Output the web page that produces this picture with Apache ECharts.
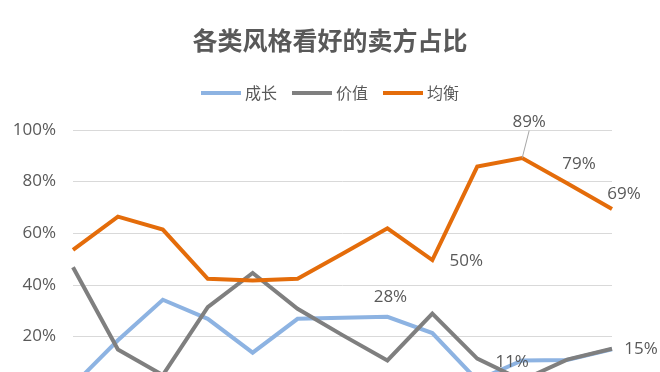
<!DOCTYPE html>
<html><head><meta charset="utf-8">
<script src="https://cdn.jsdelivr.net/npm/echarts@6/dist/echarts.min.js"></script>
<style>html,body{margin:0;padding:0;background:#fff}#c{width:660px;height:372px}</style>
</head><body><div id="c"></div>
<script>
var categories = ['1','2','3','4','5','6','7','8','9','10','11','12','13'];
var seriesNames = ['成长','价值','均衡'];
var growth   = [1, 18.5, 34.2, 26.8, 13.7, 26.8, 27.2, 27.6, 21.3, 3, 10.7, 10.9, 15];
var value    = [46.8, 14.9, 5, 31.3, 44.6, 30.7, 20.5, 10.7, 28.8, 11.4, 3, 11, 15.2];
var balanced = [53.5, 66.4, 61.4, 42.3, 41.7, 42.3, 52, 61.9, 49.6, 85.8, 89.1, 79.4, 69.4];
var yTicks = [0, 20, 40, 60, 80, 100];
var titleText = '各类风格看好的卖方占比';

// which points carry a data label (series index -> point index -> label style)
var labelCfg = {
  0: {7: {offset:[3,-20]}, 10: {offset:[-10,2]}},
  1: {12: {offset:[29,0]}},
  2: {8: {offset:[34,1]}, 10: {offset:[7,-36], leader:true}, 11: {offset:[12,-19]}, 12: {offset:[12,-15]}}
};
var colors = ['#8DB3E2', '#7F7F7F', '#E46C0A'];
var font = "'Noto Sans CJK SC', 'Noto Sans', sans-serif";
var numFont = "'Open Sans', 'Noto Sans', sans-serif";

function build(arr, si) {
  return arr.map(function (v, i) {
    var c = labelCfg[si][i];
    if (!c) return v;
    return {
      value: v,
      label: {
        show: true, position: 'inside', offset: c.offset,
        formatter: function (p) { return Math.round(p.value) + '%'; },
        color: '#595959', fontSize: 17, fontFamily: numFont
      },
      labelLine: c.leader ? {show: true, lineStyle: {color: '#A6A6A6', width: 1}} : {show: false}
    };
  });
}
var datas = [growth, value, balanced];
var series = datas.map(function (d, si) {
  return {
    name: seriesNames[si], type: 'line', data: build(d, si),
    symbol: 'circle', symbolSize: 0, showSymbol: true,
    lineStyle: {width: 4, color: colors[si], join: 'miter'},
    itemStyle: {color: colors[si]},
    emphasis: {disabled: true},
    z: 2 + si
  };
});

var chart = echarts.init(document.getElementById('c'), null, {renderer: 'canvas'});
chart.setOption({
  animation: false,
  backgroundColor: '#fff',
  color: colors,
  title: {
    text: titleText, left: 'center', top: 23,
    textStyle: {fontSize: 25, fontWeight: 'bold', color: '#595959', fontFamily: font}
  },
  legend: {
    data: seriesNames, top: 80, left: 'center',
    icon: 'rect', itemWidth: 40, itemHeight: 4, itemGap: 15,
    textStyle: {fontSize: 16, color: '#595959', fontFamily: font, padding: [0,0,0,-1]}
  },
  grid: {left: 73, right: 48, top: 130, height: 258, containLabel: false, outerBoundsMode: 'none'},
  xAxis: {
    type: 'category', data: categories, boundaryGap: false,
    axisLine: {show: false}, axisTick: {show: false}, axisLabel: {show: false}
  },
  yAxis: {
    type: 'value', min: yTicks[0], max: yTicks[yTicks.length-1], interval: 20,
    axisLine: {show: false}, axisTick: {show: false},
    axisLabel: {formatter: '{value}%', fontSize: 17, color: '#595959', fontFamily: numFont, margin: 17},
    splitLine: {lineStyle: {color: '#D9D9D9', width: 1}}
  },
  series: series
});
</script></body></html>
